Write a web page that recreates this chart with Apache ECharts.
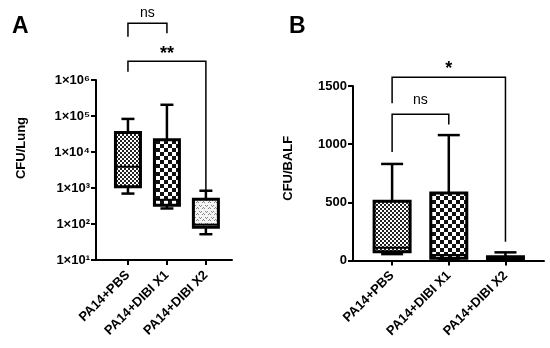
<!DOCTYPE html>
<html><head><meta charset="utf-8">
<script src="https://cdn.jsdelivr.net/npm/echarts@6/dist/echarts.min.js"></script>
<style>html,body{margin:0;padding:0;background:#fff}#c{width:550px;height:348px}</style>
</head><body><div id="c"></div>
<script>
// ---- data ----
const categories = ['PA14+PBS', 'PA14+DIBI X1', 'PA14+DIBI X2'];
// [min, Q1, median, Q3, max]
const lungStats = [
  [700, 1090, 3900, 35000, 83000],
  [270, 330, 470, 22000, 205000],
  [52, 81, 96, 490, 840]
];
const balfStats = [
  [55, 75, 110, 510, 830],
  [10, 20, 47, 581, 1078],
  [0, 5, 15, 33, 70]
];
const lungTicks = [10, 100, 1000, 10000, 100000, 1000000];
const balfTicks = [0, 500, 1000, 1500];
const lungBrackets = [[0, 1, 'ns'], [0, 2, '**']];
const balfBrackets = [[0, 2, '*'], [0, 1, 'ns']];

// ---- patterns ----
function makePattern(kind) {
  const c = document.createElement('canvas');
  const ctx = c.getContext('2d');
  if (kind === 0) {
    c.width = 4; c.height = 4;
    ctx.fillStyle = '#fff'; ctx.fillRect(0, 0, 4, 4);
    ctx.fillStyle = '#222';
    ctx.fillRect(0, 0, 2, 2); ctx.fillRect(2, 2, 2, 2);
  } else if (kind === 1) {
    c.width = 8; c.height = 8;
    ctx.fillStyle = '#fff'; ctx.fillRect(0, 0, 8, 8);
    ctx.fillStyle = '#111';
    ctx.fillRect(0, 0, 4, 4); ctx.fillRect(4, 4, 4, 4);
  } else {
    c.width = 6; c.height = 6;
    ctx.fillStyle = '#f4f4f4'; ctx.fillRect(0, 0, 6, 6);
    ctx.fillStyle = '#888';
    ctx.fillRect(1, 1, 1, 1); ctx.fillRect(3, 1, 1, 1); ctx.fillRect(2, 2, 1, 1);
    ctx.fillRect(4, 4, 1, 1); ctx.fillRect(0, 4, 1, 1); ctx.fillRect(5, 3, 1, 1);
  }
  return { image: c, repeat: 'repeat' };
}
const patterns = [makePattern(0), makePattern(1), makePattern(2)];

const FONT = 'Liberation Sans, Arial, sans-serif';

function boxRender(boxW, capW) {
  return function (params, api) {
    const i = api.value(0);
    const pMin = api.coord([i, api.value(1)]);
    const pQ1 = api.coord([i, api.value(2)]);
    const pMed = api.coord([i, api.value(3)]);
    const pQ3 = api.coord([i, api.value(4)]);
    const pMax = api.coord([i, api.value(5)]);
    const x = pMin[0];
    const lw = 2.5;
    const ls = { stroke: '#000', lineWidth: lw };
    return {
      type: 'group',
      children: [
        { type: 'line', shape: { x1: x, y1: pQ3[1], x2: x, y2: pMax[1] }, style: ls },
        { type: 'line', shape: { x1: x, y1: pQ1[1], x2: x, y2: pMin[1] }, style: ls },
        { type: 'line', shape: { x1: x - capW / 2, y1: pMax[1], x2: x + capW / 2, y2: pMax[1] }, style: ls },
        { type: 'line', shape: { x1: x - capW / 2, y1: pMin[1], x2: x + capW / 2, y2: pMin[1] }, style: ls },
        { type: 'rect', shape: { x: x - boxW / 2, y: pQ3[1], width: boxW, height: Math.max(pQ1[1] - pQ3[1], 1) },
          style: { fill: patterns[i], stroke: '#000', lineWidth: 3 } },
        { type: 'line', shape: { x1: x - boxW / 2, y1: pMed[1], x2: x + boxW / 2, y2: pMed[1] }, style: { stroke: '#000', lineWidth: 2 } }
      ]
    };
  };
}

// bracket geometry (pixels relative to top of grid)
function bracketRender(cfg, stats, topVal) {
  return function (params, api) {
    const b = cfg[params.dataIndex];
    const from = api.value(0), to = api.value(1);
    const top = api.coord([from, topVal])[1];
    const xL = api.coord([from, topVal])[0];
    const xR = api.coord([to, topVal])[0];
    const yH = top + b.level;
    const yL = b.leftMax ? api.coord([from, stats[from][4]])[1] + b.left : top + b.left;
    const yR = b.rightMax ? api.coord([to, stats[to][4]])[1] + b.right : top + b.right;
    const ls = { stroke: '#000', lineWidth: 1.5 };
    return {
      type: 'group',
      children: [
        { type: 'polyline', shape: { points: [[xL, yL], [xL, yH], [xR, yH], [xR, yR]] }, style: Object.assign({ fill: null }, ls) },
        { type: 'text', style: { text: api.value(2) === 1 ? 'ns' : (b.stars), x: (xL + xR) / 2, y: top + b.textY,
          align: 'center', verticalAlign: 'middle', fill: '#000',
          font: b.stars ? 'bold 18px ' + FONT : '14px ' + FONT } }
      ]
    };
  };
}

const lungCfg = [
  { level: -56.7, left: -43.3, right: -46.7, textY: -67 },
  { level: -18.7, left: -8.3, rightMax: true, right: 0, textY: -26, stars: '**' }
];
const balfCfg = [
  { level: -8.7, left: 17.3, rightMax: true, right: -10.6, textY: -17, stars: '*' },
  { level: 28.3, leftMax: true, left: -12, rightMax: true, right: -10.7, textY: 14 }
];

const supMap = { '0': '⁰', '1': '¹', '2': '²', '3': '³', '4': '⁴', '5': '⁵', '6': '⁶', '7': '⁷', '8': '⁸', '9': '⁹' };

const axisLine = { show: true, onZero: false, lineStyle: { color: '#000', width: 2 } };
const axisTick = { show: true, inside: false, length: 5, lineStyle: { color: '#000', width: 2 } };
const xLabel = { customValues: [0, 1, 2], rotate: 45, margin: 13, fontFamily: FONT, fontWeight: 'bold', fontSize: 13, color: '#000',
  formatter: v => categories[Math.round(v)] };

const chart = echarts.init(document.getElementById('c'), null, { renderer: 'canvas' });
chart.setOption({
  animation: false,
  backgroundColor: '#fff',
  title: [
    { text: 'A', left: 7, top: 10, textStyle: { fontFamily: FONT, fontWeight: 'bold', fontSize: 23, color: '#000' } },
    { text: 'B', left: 284, top: 10, textStyle: { fontFamily: FONT, fontWeight: 'bold', fontSize: 23, color: '#000' } }
  ],
  grid: [
    { left: 96, top: 80, width: 136, height: 180, containLabel: false },
    { left: 353, top: 86, width: 191, height: 174.5, containLabel: false }
  ],
  xAxis: [
    { type: 'value', gridIndex: 0, min: -0.82, max: 2.67, splitLine: { show: false },
      axisLine: axisLine, axisTick: Object.assign({ customValues: [0, 1, 2] }, axisTick), axisLabel: xLabel },
    { type: 'value', gridIndex: 1, min: -0.69, max: 2.68, splitLine: { show: false },
      axisLine: axisLine, axisTick: Object.assign({ customValues: [0, 1, 2] }, axisTick), axisLabel: xLabel }
  ],
  yAxis: [
    { type: 'log', gridIndex: 0, logBase: 10, min: lungTicks[0], max: lungTicks[lungTicks.length - 1],
      splitLine: { show: false }, axisLine: axisLine, axisTick: axisTick,
      name: 'CFU/Lung', nameLocation: 'middle', nameGap: 68,
      nameTextStyle: { fontFamily: FONT, fontWeight: 'bold', fontSize: 13, color: '#000', padding: [0, 0, 0, 44] },
      axisLabel: { margin: 6, fontFamily: FONT, fontWeight: 'bold', fontSize: 13, color: '#000',
        formatter: v => '1×10' + String(Math.round(Math.log10(v))).split('').map(d => supMap[d]).join('') } },
    { type: 'value', gridIndex: 1, min: balfTicks[0], max: balfTicks[balfTicks.length - 1], interval: 500,
      splitLine: { show: false }, axisLine: axisLine, axisTick: axisTick,
      name: 'CFU/BALF', nameLocation: 'middle', nameGap: 58,
      nameTextStyle: { fontFamily: FONT, fontWeight: 'bold', fontSize: 13, color: '#000', padding: [0, 0, 0, 10] },
      axisLabel: { margin: 6, fontFamily: FONT, fontWeight: 'bold', fontSize: 13, color: '#000',
        formatter: v => String(v) } }
  ],
  series: [
    { type: 'custom', xAxisIndex: 0, yAxisIndex: 0, clip: false,
      encode: { x: 0, y: [1, 2, 3, 4, 5] },
      data: lungStats.map((s, i) => [i].concat(s)),
      renderItem: boxRender(25, 13) },
    { type: 'custom', xAxisIndex: 1, yAxisIndex: 1, clip: false,
      encode: { x: 0, y: [1, 2, 3, 4, 5] },
      data: balfStats.map((s, i) => [i].concat(s)),
      renderItem: boxRender(36, 22) },
    { type: 'custom', xAxisIndex: 0, yAxisIndex: 0, clip: false,
      encode: { x: [0, 1], y: 3 },
      data: lungBrackets.map(b => [b[0], b[1], b[2] === 'ns' ? 1 : 0, 1000]),
      renderItem: bracketRender(lungCfg, lungStats, lungTicks[lungTicks.length - 1]) },
    { type: 'custom', xAxisIndex: 1, yAxisIndex: 1, clip: false,
      encode: { x: [0, 1], y: 3 },
      data: balfBrackets.map(b => [b[0], b[1], b[2] === 'ns' ? 1 : 0, 500]),
      renderItem: bracketRender(balfCfg, balfStats, balfTicks[balfTicks.length - 1]) }
  ]
});
</script>
</body></html>
